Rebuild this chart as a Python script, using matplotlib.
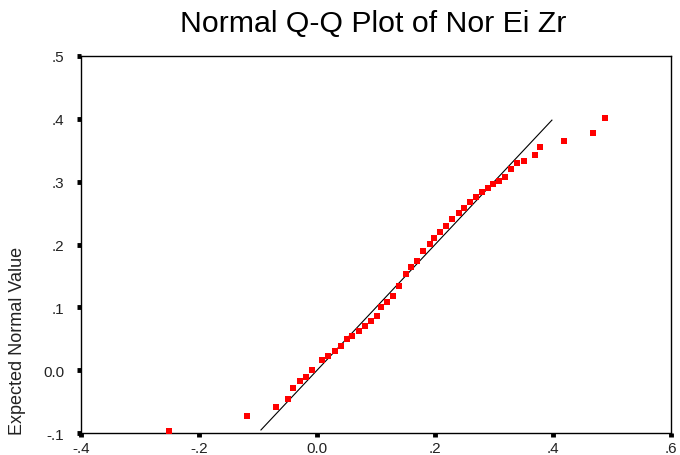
import matplotlib
matplotlib.use("Agg")
import matplotlib.pyplot as plt

# Observed values of Nor Ei Zr and their expected normal values
observed = [-0.250, -0.119, -0.070, -0.050, -0.040, -0.029, -0.019, -0.009,
            0.009, 0.019, 0.030, 0.040, 0.050, 0.060, 0.071, 0.081, 0.091,
            0.101, 0.109, 0.119, 0.129, 0.139, 0.150, 0.160, 0.170, 0.180,
            0.191, 0.199, 0.209, 0.219, 0.229, 0.240, 0.249, 0.259, 0.270,
            0.280, 0.289, 0.299, 0.309, 0.319, 0.329, 0.339, 0.350, 0.370,
            0.378, 0.419, 0.467, 0.488]
expected = [-0.096, -0.073, -0.059, -0.045, -0.028, -0.017, -0.011, 0.001,
            0.017, 0.023, 0.030, 0.038, 0.049, 0.054, 0.063, 0.071, 0.078,
            0.087, 0.100, 0.109, 0.118, 0.134, 0.153, 0.164, 0.174, 0.190,
            0.201, 0.210, 0.220, 0.230, 0.241, 0.250, 0.258, 0.267, 0.276,
            0.283, 0.290, 0.297, 0.301, 0.307, 0.320, 0.329, 0.333, 0.342,
            0.356, 0.365, 0.378, 0.402]

# Reference line (expected = observed)
ref_line = [-0.095, 0.398]

x_ticks = [-0.4, -0.2, 0.0, 0.2, 0.4, 0.6]
x_tick_labels = ["-.4", "-.2", "0.0", ".2", ".4", ".6"]
y_ticks = [-0.1, 0.0, 0.1, 0.2, 0.3, 0.4, 0.5]
y_tick_labels = ["-.1", "0.0", ".1", ".2", ".3", ".4", ".5"]

plt.rcParams["font.family"] = ["Liberation Sans", "DejaVu Sans"]

fig = plt.figure(figsize=(6.8, 4.56), dpi=100)
ax = fig.add_axes([0.119, 0.048, 0.868, 0.827])

ax.plot(ref_line, ref_line, color="black", linewidth=0.8, zorder=2)
ax.plot(observed, expected, linestyle="none", marker="s", markersize=5,
        color="#ff0000", markeredgewidth=0, zorder=3)

ax.set_xlim(-0.4, 0.6)
ax.set_ylim(-0.1, 0.5)
ax.set_xticks(x_ticks)
ax.set_xticklabels(x_tick_labels)
ax.set_yticks(y_ticks)
ax.set_yticklabels(y_tick_labels)

ax.tick_params(axis="both", direction="out", length=3, width=3.5,
               color="black", labelsize=11, labelcolor="#222222")
ax.tick_params(axis="y", pad=9)
ax.tick_params(axis="x", pad=3)

for side in ["left", "bottom", "top", "right"]:
    ax.spines[side].set_color("black")
    ax.spines[side].set_linewidth(1.0)

fig.text(18 / 680, 1 - 341 / 456, "Expected Normal Value", rotation=90,
         ha="center", va="center", fontsize=13, color="#222222")
fig.text(0.549, 0.948, "Normal Q-Q Plot of Nor Ei Zr", ha="center", va="center",
         fontsize=21.8, color="black")

fig.savefig("out.png", dpi=100, facecolor="white")
